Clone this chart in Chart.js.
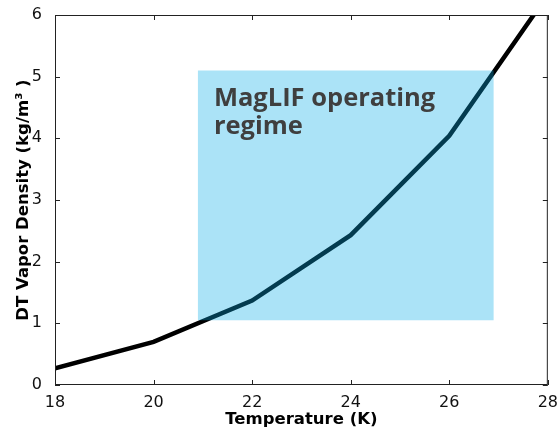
<!DOCTYPE html>
<html>
<head>
<meta charset="utf-8">
<script src="https://cdn.jsdelivr.net/npm/chart.js@4/dist/chart.umd.min.js"></script>
<style>
  html, body { margin: 0; padding: 0; background: #fff; }
  #wrap { width: 558px; height: 432px; }
</style>
</head>
<body>
<div id="wrap"><canvas id="myChart" width="558" height="432"></canvas></div>
<script>
// vapor density curve
const temps = [18, 20, 22, 24, 26, 28];
const density = [0.27, 0.70, 1.37, 2.43, 4.04, 6.33];

const x_ticks = [18, 20, 22, 24, 26, 28];
const y_ticks = [0, 1, 2, 3, 4, 5, 6];

// operating window (temperature range, density range)
const regime_temp = [20.9, 26.9];
const regime_density = [1.05, 5.1];
const regime_label = ['MagLIF operating', 'regime'];

const tick_font = { family: 'DejaVu Sans', size: 16 };
const title_font = { family: 'DejaVu Sans', size: 16.5, weight: 'bold' };

// blue box + label, drawn over the curve
const regime_plugin = {
    id: 'regime_box',
    afterDatasetsDraw(chart) {
        const ctx = chart.ctx;
        const xs = chart.scales.x, ys = chart.scales.y;
        const x0 = xs.getPixelForValue(regime_temp[0]);
        const x1 = xs.getPixelForValue(regime_temp[1]);
        const y0 = ys.getPixelForValue(regime_density[1]);
        const y1 = ys.getPixelForValue(regime_density[0]);
        ctx.save();
        ctx.fillStyle = 'rgba(10, 172, 233, 0.34)';
        ctx.fillRect(x0, y0, x1 - x0, y1 - y0);
        ctx.fillStyle = '#3f3f3f';
        ctx.font = 'bold 25.5px "Open Sans"';
        ctx.textBaseline = 'alphabetic';
        ctx.fillText(regime_label[0], x0 + 16, y0 + 35);
        ctx.fillText(regime_label[1], x0 + 16, y0 + 63);
        ctx.restore();
    }
};

// box frame with inward ticks on every side
const frame_plugin = {
    id: 'frame',
    afterDraw(chart) {
        const ctx = chart.ctx;
        const a = chart.chartArea;
        const xs = chart.scales.x, ys = chart.scales.y;
        const len = 5;
        ctx.save();
        ctx.strokeStyle = '#222';
        ctx.lineWidth = 1;
        ctx.strokeRect(a.left + 0.5, a.top + 0.5, a.right - a.left - 1, a.bottom - a.top - 1);
        ctx.beginPath();
        x_ticks.forEach(v => {
            const px = Math.round(xs.getPixelForValue(v)) + 0.5;
            ctx.moveTo(px, a.bottom); ctx.lineTo(px, a.bottom - len);
            ctx.moveTo(px, a.top); ctx.lineTo(px, a.top + len);
        });
        y_ticks.forEach(v => {
            const py = Math.round(ys.getPixelForValue(v)) + 0.5;
            ctx.moveTo(a.left, py); ctx.lineTo(a.left + len, py);
            ctx.moveTo(a.right, py); ctx.lineTo(a.right - len, py);
        });
        ctx.stroke();
        ctx.restore();
    }
};

const ctx = document.getElementById('myChart');
const chart = new Chart(ctx, {
    type: 'line',
    data: {
        labels: temps,
        datasets: [{
            data: temps.map((t, i) => ({ x: t, y: density[i] })),
            borderColor: '#000',
            borderWidth: 4.5,
            pointRadius: 0,
            tension: 0,
            clip: 0
        }]
    },
    options: {
        responsive: false,
        animation: false,
        layout: { padding: { top: 15, right: 10, left: 0, bottom: 0 } },
        plugins: {
            legend: { display: false },
            tooltip: { enabled: false }
        },
        scales: {
            x: {
                type: 'linear',
                min: 18,
                max: 28,
                afterBuildTicks: (s) => { s.ticks = x_ticks.map(v => ({ value: v })); },
                grid: { display: false },
                border: { display: false },
                ticks: { font: tick_font, color: '#111', padding: 0, maxRotation: 0 },
                title: { display: true, text: 'Temperature (K)', font: title_font, color: '#000', padding: { top: 2, bottom: 2 } },
                afterFit: (s) => { s.height = 47; }
            },
            y: {
                min: 0,
                max: 6,
                afterBuildTicks: (s) => { s.ticks = y_ticks.map(v => ({ value: v })); },
                grid: { display: false },
                border: { display: false },
                ticks: { font: tick_font, color: '#111', padding: 5 },
                title: { display: true, text: 'DT Vapor Density (kg/m\u00b3 )', font: title_font, color: '#000', padding: { top: 14, bottom: 4 } },
                afterFit: (s) => { s.width = 55; }
            }
        }
    },
    plugins: [regime_plugin, frame_plugin]
});
</script>
</body>
</html>
